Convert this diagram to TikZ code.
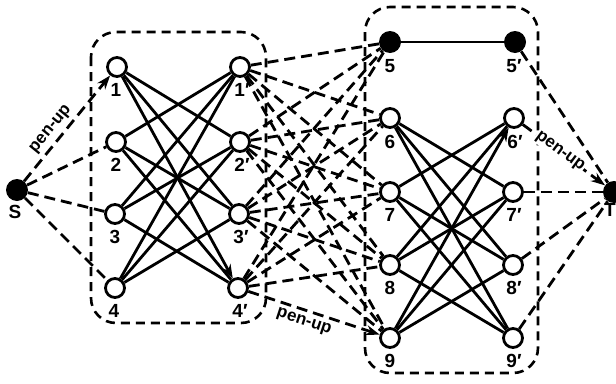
\documentclass[tikz,border=0pt]{standalone}
\usepackage{fontspec}
\setmainfont{Liberation Sans}
\usetikzlibrary{arrows.meta}
\begin{document}
\begin{tikzpicture}[x=1pt,y=-1pt,
 vtx/.style={circle,draw,line width=2.8pt,fill=white,minimum size=19pt,inner sep=0pt},
 fvtx/.style={circle,fill=black,minimum size=22pt,inner sep=0pt},
 lbl/.style={font=\fontsize{19}{19}\selectfont\bfseries,inner sep=0pt},
 penlbl/.style={font=\fontsize{17}{17}\selectfont\bfseries,inner sep=1pt},
 sedge/.style={line width=2.8pt},
 dedge/.style={line width=2.8pt,dash pattern=on 11pt off 6pt},
 boxline/.style={line width=2.6pt,dash pattern=on 9pt off 6pt,rounded corners=25pt},
 arr/.style={-{Stealth[length=14pt,width=10pt]}}
]
\useasboundingbox (0,0) rectangle (616,383);
% boxes
\draw[boxline] (91,32) rectangle (266,323);
\draw[boxline] (365,7) rectangle (538,373);
% nodes
\node[fvtx] (S) at (17,190) {};
\node[fvtx] (T) at (614,192) {};
\node[vtx] (a1) at (117,67) {};
\node[vtx] (a2) at (116,142) {};
\node[vtx] (a3) at (115,214) {};
\node[vtx] (a4) at (115,288) {};
\node[vtx] (b1) at (240,67) {};
\node[vtx] (b2) at (240,142) {};
\node[vtx] (b3) at (239,214) {};
\node[vtx] (b4) at (238,288) {};
\node[fvtx] (c5) at (390,42) {};
\node[fvtx] (d5) at (515,42) {};
\node[vtx] (c6) at (390,118) {};
\node[vtx] (d6) at (514,118) {};
\node[vtx] (c7) at (390,192) {};
\node[vtx] (d7) at (513,192) {};
\node[vtx] (c8) at (390,265) {};
\node[vtx] (d8) at (513,265) {};
\node[vtx] (c9) at (390,338) {};
\node[vtx] (d9) at (513,338) {};
% labels
\node[lbl] (lS) at (15,212) {S};
\node[lbl] (lT) at (610,210) {T};
\node[lbl] (l1) at (116,90) {1};
\node[lbl] (l2) at (116,165) {2};
\node[lbl] (l3) at (115,237) {3};
\node[lbl] (l4) at (114,311) {4};
\node[lbl] (l1p) at (242,90) {1′};
\node[lbl] (l2p) at (242,165) {2′};
\node[lbl] (l3p) at (241,237) {3′};
\node[lbl] (l4p) at (240,311) {4′};
\node[lbl] (l5) at (390,66) {5};
\node[lbl] (l5p) at (514,66) {5′};
\node[lbl] (l6) at (390,142) {6};
\node[lbl] (l6p) at (515,142) {6′};
\node[lbl] (l7) at (390,215) {7};
\node[lbl] (l7p) at (514,215) {7′};
\node[lbl] (l8) at (390,288) {8};
\node[lbl] (l8p) at (514,288) {8′};
\node[lbl] (l9) at (390,361) {9};
\node[lbl] (l9p) at (514,361) {9′};
% solid edges, left box
\foreach \i in {1,2,3,4}{
  \foreach \j in {1,2,3,4}{
    \ifnum\i=\j\else
      \ifnum\i=1 \ifnum\j=4 \else \draw[sedge] (a\i) -- (b\j);\fi
      \else \draw[sedge] (a\i) -- (b\j);\fi
    \fi
  }
}
\draw[sedge,arr] (a1) -- (b4);
% solid edges, right box
\draw[sedge] (c5) -- (d5);
\foreach \i in {6,7,8,9}{
  \foreach \j in {6,7,8,9}{
    \ifnum\i=\j\else
      \ifnum\i=9 \ifnum\j=6 \else \draw[sedge] (c\i) -- (d\j);\fi
      \else \draw[sedge] (c\i) -- (d\j);\fi
    \fi
  }
}
\draw[sedge,arr] (c9) -- (d6);
% dashed edges from S
\draw[dedge,arr] (S) -- node[penlbl,sloped,above=3pt,pos=0.42] (p1) {pen-up} (a1);
\draw[dedge] (S) -- (a2);
\draw[dedge] (S) -- (a3);
\draw[dedge] (S) -- (a4);
% dashed edges between boxes
\foreach \i in {1,2,3,4}{
  \foreach \j in {5,6,7,8,9}{
    \ifnum\i=4 \ifnum\j=9 \else \draw[dedge] (b\i) -- (c\j);\fi
    \else \draw[dedge] (b\i) -- (c\j);\fi
  }
}
\draw[dedge,arr] (b4) -- node[penlbl,sloped,below=3pt,pos=0.45] (p2) {pen-up} (c9);
% dashed edges to T
\draw[dedge] (d5) -- (T);
\draw[dedge,arr] (d6) -- node[penlbl,sloped,fill=white,pos=0.45] (p3) {pen-up} (T);
\draw[dedge] (d7) -- (T);
\draw[dedge] (d8) -- (T);
\draw[dedge] (d9) -- (T);
\end{tikzpicture}
\end{document}
